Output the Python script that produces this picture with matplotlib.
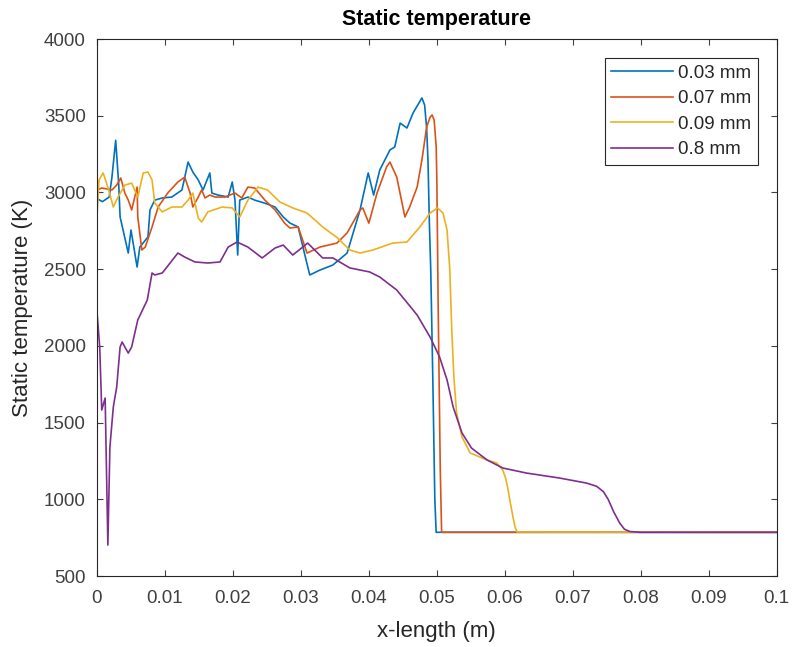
import matplotlib
matplotlib.use("Agg")
import matplotlib.pyplot as plt

plt.rcParams['font.family'] = ['Liberation Sans', 'DejaVu Sans']

# x positions (m) and static temperature (K)
x_003 = [0, 0.0008, 0.0018, 0.0022, 0.00275, 0.0032, 0.0034, 0.0046, 0.005, 0.0059,
         0.0063, 0.0075, 0.0078, 0.0085, 0.0096, 0.011, 0.0125, 0.0134, 0.0141, 0.0149,
         0.0156, 0.0166, 0.0169, 0.0178, 0.0193, 0.0199, 0.0203, 0.0207, 0.0210, 0.0222,
         0.0232, 0.0247, 0.0262, 0.0274, 0.0284, 0.0296, 0.0303, 0.0313, 0.0328, 0.0347,
         0.0368, 0.0387, 0.0399, 0.0407, 0.0416, 0.0431, 0.0438, 0.0446, 0.0456, 0.0465,
         0.0478, 0.0482, 0.0485, 0.0487, 0.0489, 0.0491, 0.0494, 0.0497, 0.0499, 0.1]
T_003 = [2960, 2940, 2970, 3100, 3340, 3050, 2840, 2605, 2755, 2514,
         2644, 2710, 2886, 2950, 2964, 2970, 3016, 3198, 3133, 3081,
         3016, 3127, 2996, 2983, 2970, 3068, 2950, 2592, 2950, 2970,
         2950, 2930, 2905, 2840, 2800, 2775, 2644, 2462, 2494, 2527,
         2605, 2886, 3127, 2983, 3146, 3277, 3296, 3452, 3420, 3518,
         3616, 3570, 3420, 3200, 2800, 2500, 1800, 1000, 785, 785]

x_007 = [0, 0.0007, 0.0022, 0.0029, 0.0035, 0.0041, 0.0046, 0.0051, 0.0059, 0.006,
         0.0066, 0.0071, 0.0081, 0.009, 0.0104, 0.0119, 0.0129, 0.0137, 0.0141, 0.0149,
         0.0154, 0.0159, 0.0166, 0.0174, 0.0188, 0.0203, 0.0213, 0.0222, 0.0232, 0.0247,
         0.0262, 0.0276, 0.0284, 0.0296, 0.0309, 0.0328, 0.0353, 0.0368, 0.0387, 0.0391,
         0.0400, 0.0412, 0.0426, 0.0431, 0.0441, 0.0453, 0.0460, 0.0471, 0.0478, 0.0485,
         0.0490, 0.0493, 0.0496, 0.0499, 0.0500, 0.0502, 0.0505, 0.0507, 0.1]
T_007 = [3016, 3029, 3016, 3048, 3094, 2996, 2950, 2886, 3035, 2840,
         2625, 2644, 2775, 2905, 2996, 3068, 3100, 2996, 2905, 2970,
         3016, 2964, 2983, 2970, 2970, 2996, 2964, 3035, 3029, 2950,
         2886, 2800, 2768, 2775, 2605, 2644, 2670, 2736, 2886, 2899,
         2800, 2996, 3166, 3198, 3100, 2840, 2905, 3035, 3211, 3427,
         3490, 3505, 3472, 3300, 3081, 2234, 1200, 785, 785]

x_009 = [0, 0.0003, 0.0009, 0.0016, 0.0024, 0.0031, 0.0041, 0.0051, 0.006, 0.0068,
         0.0075, 0.0081, 0.0085, 0.0096, 0.011, 0.0125, 0.0134, 0.0141, 0.0149, 0.0154,
         0.0163, 0.0184, 0.0199, 0.0210, 0.0222, 0.0237, 0.0251, 0.0269, 0.0288, 0.0309,
         0.0332, 0.0354, 0.0372, 0.0387, 0.0406, 0.0435, 0.0456, 0.0475, 0.0490, 0.0501,
         0.0509, 0.0515, 0.0519, 0.0522, 0.0525, 0.0529, 0.0537, 0.0549, 0.0574, 0.0588,
         0.0597, 0.0601, 0.0604, 0.0608, 0.0612, 0.0615, 0.0618, 0.1]
T_009 = [2840, 3081, 3127, 3035, 2905, 2970, 3048, 3061, 2970, 3127,
         3133, 3081, 2931, 2873, 2905, 2905, 2950, 2996, 2833, 2807,
         2873, 2905, 2899, 2840, 2950, 3035, 3016, 2938, 2899, 2866,
         2775, 2703, 2625, 2605, 2625, 2670, 2677, 2775, 2866, 2899,
         2866, 2755, 2500, 2100, 1800, 1563, 1406, 1302, 1256, 1237,
         1191, 1140, 1080, 980, 885, 820, 787, 785]

x_08 = [0, 0.0004, 0.0007, 0.0012, 0.0016, 0.0019, 0.0024, 0.0029, 0.0034, 0.0037,
        0.0046, 0.0051, 0.006, 0.0074, 0.0081, 0.0085, 0.0096, 0.0119, 0.0129, 0.0144,
        0.0163, 0.0181, 0.0193, 0.0206, 0.0222, 0.0243, 0.0262, 0.0274, 0.0288, 0.0310,
        0.0332, 0.0347, 0.0372, 0.0401, 0.0416, 0.0441, 0.0465, 0.0471, 0.0490, 0.0504,
        0.0515, 0.0524, 0.0537, 0.0551, 0.0574, 0.0597, 0.0632, 0.0680, 0.0720, 0.0735,
        0.0745, 0.0752, 0.0760, 0.0769, 0.0776, 0.0784, 0.0799, 0.1]
T_08 = [2221, 1993, 1582, 1660, 702, 1341, 1601, 1732, 1993, 2025,
        1953, 1993, 2169, 2299, 2475, 2462, 2475, 2605, 2579, 2547,
        2540, 2547, 2644, 2677, 2644, 2573, 2638, 2657, 2592, 2670,
        2573, 2573, 2508, 2482, 2449, 2364, 2234, 2201, 2058, 1928,
        1778, 1601, 1432, 1334, 1256, 1204, 1171, 1139, 1106, 1085,
        1050, 1000, 920, 845, 805, 790, 785, 785]

labels = ['0.03 mm', '0.07 mm', '0.09 mm', '0.8 mm']
colors = ['#0072BD', '#D95319', '#EDB120', '#7E2F8E']
series = [(x_003, T_003), (x_007, T_007), (x_009, T_009), (x_08, T_08)]

xticks = [0, 0.01, 0.02, 0.03, 0.04, 0.05, 0.06, 0.07, 0.08, 0.09, 0.1]
xticklabels = ['0', '0.01', '0.02', '0.03', '0.04', '0.05', '0.06', '0.07', '0.08', '0.09', '0.1']
yticks = [500, 1000, 1500, 2000, 2500, 3000, 3500, 4000]

axcol = '#262626'
fig = plt.figure(figsize=(7.95, 6.47), dpi=100)
ax = fig.add_axes([0.122, 0.1097, 0.855, 0.830])

for (xs, ts), lab, c in zip(series, labels, colors):
    ax.plot(xs, ts, color=c, lw=1.2, label=lab)

ax.set_xlim(0, 0.1)
ax.set_ylim(500, 4000)
ax.set_xticks(xticks)
ax.set_xticklabels(xticklabels)
ax.set_yticks(yticks)
ax.tick_params(direction='in', top=True, right=True, length=4.5, width=0.8,
               labelsize=13.5, colors='#404040')
ax.tick_params(axis='x', pad=10)
ax.tick_params(axis='y', pad=8)
for s in ax.spines.values():
    s.set_color(axcol)
    s.set_linewidth(0.8)

ax.set_xlabel('x-length (m)', fontsize=16, color=axcol, va='center')
ax.xaxis.set_label_coords(0.5, -0.1024)
ax.set_ylabel('Static temperature (K)', fontsize=16, color=axcol, va='center')
ax.yaxis.set_label_coords(-0.110, 0.5)
ax.set_title('Static temperature', fontsize=15.5, fontweight='bold', color='black', pad=10)

leg = ax.legend(loc='upper right', bbox_to_anchor=(0.972, 0.9646), borderaxespad=0,
                fontsize=13.5, fancybox=False, framealpha=1, edgecolor=axcol,
                handlelength=3.3, borderpad=0.35, labelspacing=0.45, handletextpad=0.25)
leg.get_frame().set_linewidth(0.8)
for t in leg.get_texts():
    t.set_color(axcol)

fig.savefig('out.png', dpi=100)
